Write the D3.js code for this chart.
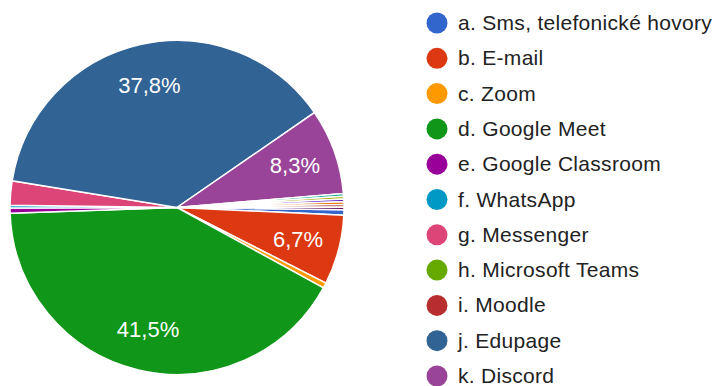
<html>
<head>
  <script src="https://d3js.org/d3.v7.min.js"></script>
  <style>
    body { margin: 0; background: white; }
  </style>
</head>
<body>
  <svg id="pie" width="722" height="386"></svg>

  <script>
    // answer options (legend is cut off after k. in the original)
    const options = ["a. Sms, telefonické hovory", "b. E-mail", "c. Zoom", "d. Google Meet",
      "e. Google Classroom", "f. WhatsApp", "g. Messenger", "h. Microsoft Teams", "i. Moodle",
      "j. Edupage", "k. Discord", "l.", "m.", "n.", "o.", "p.", "q."];
    // response counts (386 answers in total)
    const counts = [2, 26, 2, 160, 2, 1, 9, 0, 0, 146, 32, 1, 1, 1, 1, 1, 1];
    const colors = ["#3366cc", "#dc3912", "#ff9900", "#109618", "#990099", "#0099c6", "#dd4477",
      "#66aa00", "#b82e2e", "#316395", "#994499", "#22aa99", "#aaaa11", "#6633cc", "#e67300",
      "#8b0707", "#651067"];

    let data = options.map((name, i) => ({name: name, value: counts[i], color: colors[i]}));
    let total = d3.sum(counts);

    let svg = d3.select("svg#pie");
    let height = +svg.attr("height");
    let cx = 177, cy = 207.5, radius = 167;

    // first slice starts just past 3 o'clock and runs clockwise
    let start = Math.PI / 2 + 0.8 * Math.PI / 180;
    let pie = d3.pie()
                .sort(null)
                .value(d => d.value)
                .startAngle(start)
                .endAngle(start + 2 * Math.PI);

    let arc = d3.arc().innerRadius(0).outerRadius(radius);
    let labelArc = d3.arc().innerRadius(radius * 0.75).outerRadius(radius * 0.75);

    let g = svg.append("g").attr("transform", `translate(${cx},${cy})`);
    let slices = pie(data).filter(d => d.value > 0);

    g.selectAll("path")
      .data(slices)
      .join("path")
        .attr("d", arc)
        .style("fill", d => d.data.color)
        .style("stroke", "white")
        .style("stroke-width", 1.5);

    // percentage labels only on the big slices
    g.selectAll("text")
      .data(slices.filter(d => d.value / total > 0.05))
      .join("text")
        .attr("x", d => labelArc.centroid(d)[0])
        .attr("y", d => labelArc.centroid(d)[1] + 8)
        .text(d => (d.value / total * 100).toFixed(1).replace(".", ",") + "%")
        .style("fill", "white")
        .style("font-size", "22px")
        .style("text-anchor", "middle")
        .style("font-family", "Arial, 'Liberation Sans', sans-serif");

    // legend, only the rows that fit on the page
    let rowStep = 35.3;
    let yscale = d3.scaleLinear()
                   .domain([0, 1])
                   .range([23, 23 + rowStep]);

    let legend = svg.append("g");
    data.forEach((d, i) => {
      if (yscale(i) + 7 > height) return;
      legend.append("circle")
          .attr("cx", 437)
          .attr("cy", yscale(i))
          .attr("r", 10.5)
          .style("fill", d.color);
      legend.append("text")
          .attr("x", 458)
          .attr("y", yscale(i) + 7)
          .text(d.name)
          .style("fill", "#222")
          .style("font-size", "21px")
          .style("letter-spacing", "0.3px")
          .style("font-family", "Arial, 'Liberation Sans', sans-serif");
    });
  </script>
</body>
</html>
